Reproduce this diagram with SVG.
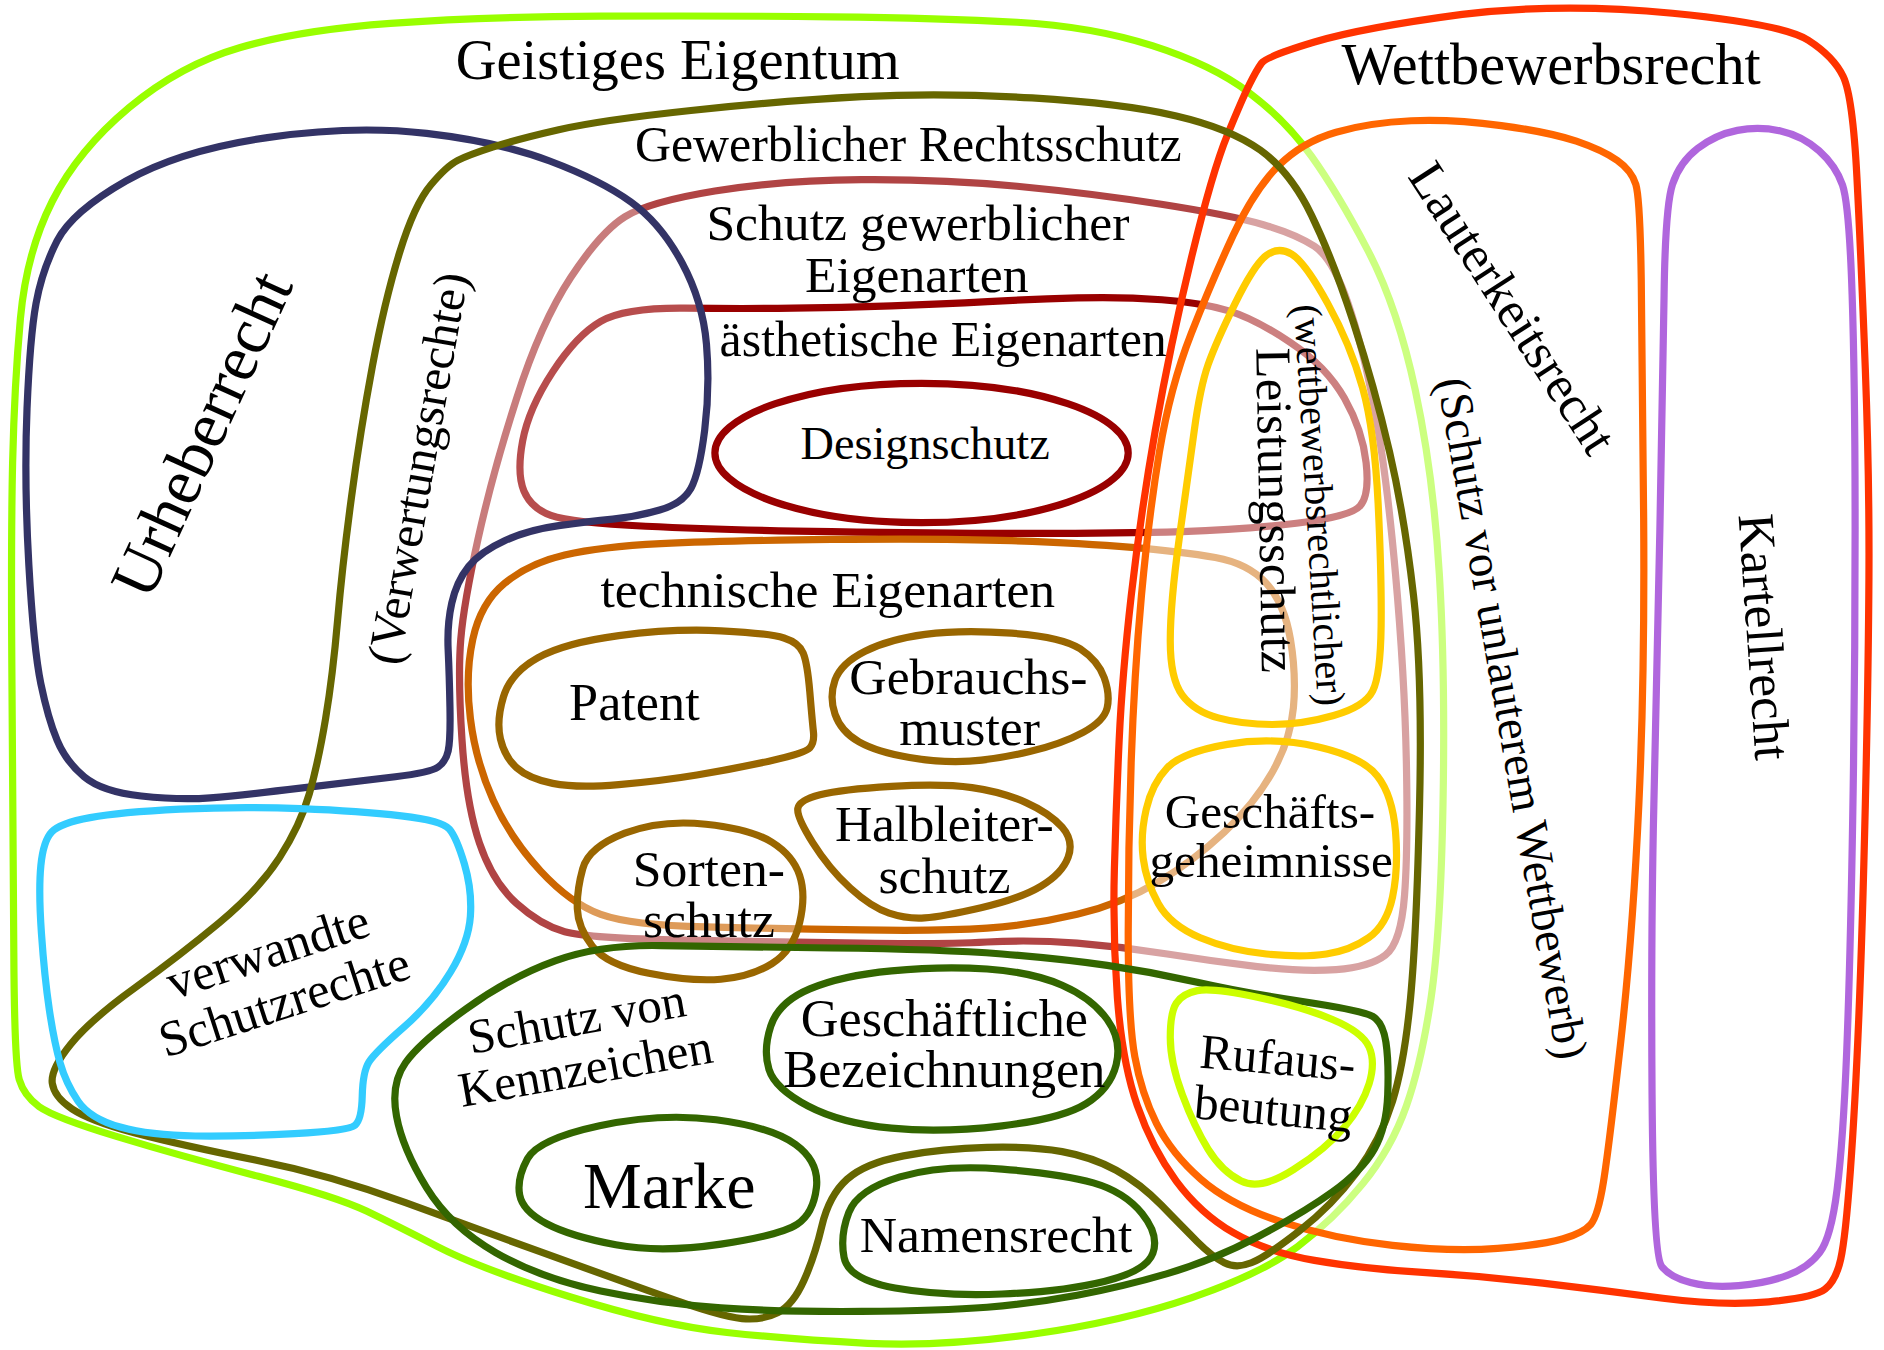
<svg xmlns="http://www.w3.org/2000/svg" width="1884" height="1350" viewBox="0 0 1884 1350">
<style>
.s{fill:none;stroke-width:6;stroke-linejoin:round}
.t{font-family:"Liberation Serif","Times New Roman",serif;fill:#000;text-anchor:middle}
</style>
<rect width="1884" height="1350" fill="#fff"/>
<g transform="scale(1.2015)">
<g id="geistiges-eigentum">
<path class="s" stroke="#99ff00" d="M325,19.5 Q400,14 500,13.5 Q600,13 692,14 Q784,15 846.5,18.5 Q909,22 959,38 Q1009,54 1039.5,77 Q1070,100 1091.5,130 Q1113,160 1138,207.5 Q1163,255 1178,325 Q1193,395 1198,478.5 Q1203,562 1201,669.5 Q1199,777 1191,831 Q1183,885 1170.5,920.5 Q1158,956 1134,985.5 Q1110,1015 1080,1037.5 Q1050,1060 992,1080 Q934,1100 859,1110.5 Q784,1121 722,1118 Q660,1115 605,1109 Q550,1103 475,1079.5 Q400,1056 365,1038 Q330,1020 305,1008 Q280,996 215,979 Q150,962 97.5,946 Q45,930 32.5,921 Q20,912 16,898.5 Q12,885 11.5,792.5 Q11,700 10,575 Q9,450 10.5,385 Q12,320 17,265 Q22,210 43.5,167.5 Q65,125 107.5,89.5 Q150,54 200,39.5 Q250,25 325,19.5 Z"/>
<text class="t" x="564" y="66" font-size="47">Geistiges Eigentum</text>
</g>
<g id="schutz-gewerblicher-eigenarten">
<path class="s" stroke="#b04444" d="M520,180.5 Q540,168 595,159 Q650,150 717,149.5 Q784,149 846.5,155 Q909,161 966.5,170 Q1024,179 1051.5,187 Q1079,195 1094,205 Q1109,215 1121.5,251 Q1134,287 1144,340.5 Q1154,394 1161.5,478 Q1169,562 1170.5,633.5 Q1172,705 1169,745 Q1166,785 1153,795 Q1140,805 1112,807 Q1084,809 1046.5,804.5 Q1009,800 971.5,794 Q934,788 896.5,785 Q859,782 821.5,784 Q784,786 717,785 Q650,784 570,782.5 Q490,781 470,775.5 Q450,770 430,752 Q410,734 399,701.5 Q388,669 384.5,615.5 Q381,562 383.5,532 Q386,502 398,448 Q410,394 430,331.5 Q450,269 475,231 Q500,193 520,180.5 Z"/>
<text class="t" x="764" y="200" font-size="43">Schutz gewerblicher</text>
<text class="t" x="763" y="243" font-size="43">Eigenarten</text>
</g>
<g id="aesthetische-eigenarten">
<path class="s" stroke="#990000" d="M500,267.5 Q520,256 570,256.5 Q620,257 660,256.5 Q700,256 742,254.5 Q784,253 822,251 Q860,249 897,248 Q934,247 967,249.5 Q1000,252 1022,258.5 Q1044,265 1074,285 Q1104,305 1119,331.5 Q1134,358 1137,385 Q1140,412 1132,421 Q1124,430 1079,435.5 Q1034,441 984,442.5 Q934,444 859,444 Q784,444 692,442.5 Q600,441 537.5,438 Q475,435 458.5,429 Q442,423 436,408.5 Q430,394 435,367 Q440,340 460,309.5 Q480,279 500,267.5 Z"/>
<text class="t" x="785" y="296" font-size="41.5">ästhetische Eigenarten</text>
</g>
<g id="technische-eigenarten">
<path class="s" stroke="#cc6600" d="M420,485.5 Q440,469 470,462 Q500,455 550,452.5 Q600,450 692,449 Q784,448 842,450 Q900,452 942,455.5 Q984,459 1011.5,464 Q1039,469 1054,485.5 Q1069,502 1074,532 Q1079,562 1076.5,589 Q1074,616 1059,642.5 Q1044,669 1019,692.5 Q994,716 964,734 Q934,752 896.5,761 Q859,770 821.5,772.5 Q784,775 717,774 Q650,773 587.5,771.5 Q525,770 500,761 Q475,752 450,725 Q425,698 410.5,666 Q396,634 391.5,598 Q387,562 393.5,532 Q400,502 420,485.5 Z"/>
<text class="t" x="689" y="505" font-size="43">technische Eigenarten</text>
</g>
<g id="urheberrecht">
<path class="s" stroke="#333366" style="fill:#fff;fill-opacity:0.3" d="M47.5,200.5 Q60,176 105,150.5 Q150,125 222.5,114.5 Q295,104 355,111 Q415,118 457.5,134 Q500,150 525,168 Q550,186 567.5,218.5 Q585,251 588,286.5 Q591,322 586.5,358 Q582,394 575,406.5 Q568,419 549,424.5 Q530,430 510,432 Q490,434 465,437.5 Q440,441 420,450 Q400,459 390,471.5 Q380,484 376,502 Q372,520 373,541 Q374,562 374.5,589 Q375,616 373,625 Q371,634 364.5,638.5 Q358,643 329,646.5 Q300,650 250,656 Q200,662 175,664 Q150,666 117.5,662.5 Q85,659 70,646.5 Q55,634 47.5,616 Q40,598 34,569 Q28,540 24,470 Q20,400 22.5,340 Q25,280 30,252.5 Q35,225 47.5,200.5 Z"/>
<text class="t" font-size="55" transform="translate(184.5,369) rotate(-65.5)">Urheberrecht</text>
</g>
<g id="sortenschutz">
<path class="s" stroke="#996600" style="fill:#fff;fill-opacity:0.35" d="M480.5,756.5 Q480,741 485,723 Q490,705 520,693.5 Q550,682 587.5,686 Q625,690 642.5,701 Q660,712 665.5,728.5 Q671,745 665.5,768 Q660,791 642.5,802 Q625,813 600,815 Q575,817 540,810 Q505,803 493,787.5 Q481,772 480.5,756.5 Z"/>
<text class="t" x="590" y="737" font-size="43">Sorten-</text>
<text class="t" x="590" y="780" font-size="43">schutz</text>
</g>
<g id="lauterkeitsrecht">
<path class="s" stroke="#ff6600" style="fill:#fff;fill-opacity:0.5" d="M1026.5,195.5 Q1044,158 1064,138 Q1084,118 1112,110 Q1140,102 1174.5,100.5 Q1209,99 1249.5,104.5 Q1290,110 1312,117.5 Q1334,125 1346,133.5 Q1358,142 1361.5,153.5 Q1365,165 1366,232.5 Q1367,300 1368,431 Q1369,562 1364,669.5 Q1359,777 1349,866.5 Q1339,956 1334.5,984 Q1330,1012 1324,1019 Q1318,1026 1301,1031 Q1284,1036 1246.5,1039 Q1209,1042 1159,1036.5 Q1109,1031 1066.5,1017 Q1024,1003 999.5,981.5 Q975,960 962.5,935 Q950,910 944.5,879.5 Q939,849 939,777 Q939,705 941.5,633.5 Q944,562 950,496 Q956,430 965,376 Q974,322 991.5,277.5 Q1009,233 1026.5,195.5 Z"/>
<text class="t" font-size="43" transform="translate(1247,264) rotate(57)">Lauterkeitsrecht</text>
<text class="t" font-size="39" transform="translate(1246,600) rotate(80)">(Schutz vor unlauterem Wettbewerb)</text>
</g>
<g id="wettbewerbsrecht">
<path class="s" stroke="#ff3300" d="M1050,52.5 Q1054,47 1094,35 Q1134,23 1217,12 Q1300,2 1392,11 Q1484,20 1505,33.5 Q1526,47 1534,63.5 Q1542,80 1545.5,147.5 Q1549,215 1552.5,307.5 Q1556,400 1555.5,481 Q1555,562 1552.5,669.5 Q1550,777 1547,848.5 Q1544,920 1540,975 Q1536,1030 1532,1048 Q1528,1066 1519,1073 Q1510,1080 1472,1083.5 Q1434,1087 1384,1080.5 Q1334,1074 1284,1068 Q1234,1062 1184,1059 Q1134,1056 1094,1049 Q1054,1042 1026.5,1026 Q999,1010 979,983 Q959,956 946.5,920 Q934,884 930,830.5 Q926,777 927.5,723 Q929,669 931.5,615.5 Q934,562 941.5,496 Q949,430 961.5,358.5 Q974,287 991.5,215 Q1009,143 1021.5,112.5 Q1034,82 1040,70 Q1046,58 1050,52.5 Z"/>
<text class="t" x="1291" y="70" font-size="48.5">Wettbewerbsrecht</text>
</g>
<g id="kartellrecht">
<path class="s" stroke="#b066dd" d="M1385,246 Q1386,172 1392,153.5 Q1398,135 1413,123.5 Q1428,112 1446,108.5 Q1464,105 1482,109 Q1500,113 1514,125.5 Q1528,138 1533.5,154 Q1539,170 1541.5,245 Q1544,320 1544,441 Q1544,562 1542,681 Q1540,800 1537,875 Q1534,950 1529,990 Q1524,1030 1514.5,1042.5 Q1505,1055 1487.5,1061.5 Q1470,1068 1447,1070 Q1424,1072 1407,1067.5 Q1390,1063 1383,1054 Q1376,1045 1375,911 Q1374,777 1376.5,669.5 Q1379,562 1381.5,441 Q1384,320 1385,246 Z"/>
<text class="t" font-size="43" transform="translate(1454,531) rotate(86)">Kartellrecht</text>
</g>
<g id="gewerblicher-rechtsschutz">
<path class="s" stroke="#666600" d="M381,133.5 Q390,129 410,122.5 Q430,116 465,108 Q500,100 575,92 Q650,84 717,80.5 Q784,77 859,81.5 Q934,86 979,96.5 Q1024,107 1049,125 Q1074,143 1091.5,179 Q1109,215 1126.5,268.5 Q1144,322 1156.5,376 Q1169,430 1176.5,496 Q1184,562 1181.5,669.5 Q1179,777 1174,830.5 Q1169,884 1159,916.5 Q1149,949 1129,976 Q1109,1003 1081.5,1024.5 Q1054,1046 1041.5,1051 Q1029,1056 1019,1051 Q1009,1046 996.5,1033.5 Q984,1021 966.5,1003 Q949,985 929,974 Q909,963 884,958.5 Q859,954 821.5,955 Q784,956 752,962 Q720,968 705,981.5 Q690,995 684,1020.5 Q678,1046 669,1066 Q660,1086 647.5,1092.5 Q635,1099 617.5,1097.5 Q600,1096 550,1078 Q500,1060 450,1042 Q400,1024 337.5,1001 Q275,978 212.5,965.5 Q150,953 112.5,943 Q75,933 60,923 Q45,913 43.5,901.5 Q42,890 58.5,869.5 Q75,849 112.5,822 Q150,795 182.5,768 Q215,741 232.5,714 Q250,687 257.5,660.5 Q265,634 271,598 Q277,562 281,516 Q285,470 292.5,414 Q300,358 310,304.5 Q320,251 332.5,210.5 Q345,170 358.5,154 Q372,138 381,133.5 Z"/>
<text class="t" x="756" y="134" font-size="41.5">Gewerblicher Rechtsschutz</text>
<text class="t" font-size="40.5" transform="translate(361,392) rotate(-80)">(Verwertungsrechte)</text>
</g>
<g id="verwandte-schutzrechte">
<path class="s" stroke="#33ccff" d="M43,692.5 Q50,685 75,680.5 Q100,676 150,673.5 Q200,671 250,673 Q300,675 334,679 Q368,683 374,690 Q380,697 386.5,719 Q393,741 391.5,762.5 Q390,784 375,809 Q360,834 336,855 Q312,876 307,884 Q302,892 301.5,912 Q301,932 295.5,936.5 Q290,941 245,943.5 Q200,946 162.5,945.5 Q125,945 100,938 Q75,931 65,916.5 Q55,902 50,884.5 Q45,867 41,840 Q37,813 34.5,777 Q32,741 34,720.5 Q36,700 43,692.5 Z"/>
<g transform="translate(234,826) rotate(-18)">
<text class="t" x="0" y="-22" font-size="42">verwandte</text>
<text class="t" x="0" y="22" font-size="42">Schutzrechte</text>
</g>
</g>
<g id="designschutz">
<ellipse class="s" stroke="#990000" cx="767" cy="377" rx="172" ry="58"/>
<text class="t" x="770" y="382" font-size="38.5">Designschutz</text>
</g>
<g id="patent">
<path class="s" stroke="#996600" d="M419,580 Q425,560 447.5,547.5 Q470,535 515,529 Q560,523 600,525 Q640,527 652.5,531 Q665,535 668.5,543.5 Q672,552 674,576 Q676,600 677,609 Q678,618 674,622.5 Q670,627 640,633.5 Q610,640 580,645 Q550,650 515,653 Q480,656 460,652 Q440,648 430,639 Q420,630 416.5,615 Q413,600 419,580 Z"/>
<text class="t" x="528" y="599" font-size="43.5">Patent</text>
</g>
<g id="gebrauchsmuster">
<path class="s" stroke="#996600" d="M695,594.5 Q690,580 695,566 Q700,552 720,542 Q740,532 770,528 Q800,524 842,527 Q884,530 899,540 Q914,550 919,564 Q924,578 921.5,589 Q919,600 901.5,609.5 Q884,619 857,625.5 Q830,632 807,633.5 Q784,635 757,630.5 Q730,626 715,617.5 Q700,609 695,594.5 Z"/>
<text class="t" x="806" y="578" font-size="43">Gebrauchs-</text>
<text class="t" x="807" y="620" font-size="43">muster</text>
</g>
<g id="halbleiterschutz">
<path class="s" stroke="#996600" d="M664,673 Q665,666 682.5,661.5 Q700,657 742,654.5 Q784,652 809,655.5 Q834,659 854,668 Q874,677 884,688.5 Q894,700 889,713.5 Q884,727 866.5,737.5 Q849,748 816.5,755.5 Q784,763 769.5,764 Q755,765 740,760 Q725,755 707.5,739 Q690,723 676.5,701.5 Q663,680 664,673 Z"/>
<text class="t" x="786" y="700" font-size="43" textLength="182" lengthAdjust="spacing">Halbleiter-</text>
<text class="t" x="786" y="743" font-size="43">schutz</text>
</g>
<g id="schutz-von-kennzeichen">
<path class="s" stroke="#336600" d="M462.5,799.5 Q500,786 550,787 Q600,788 692,789 Q784,790 834,794 Q884,798 921.5,803.5 Q959,809 996.5,817.5 Q1034,826 1084,833.5 Q1134,841 1142.5,846 Q1151,851 1153.5,867.5 Q1156,884 1155,911 Q1154,938 1144,956 Q1134,974 1109,992 Q1084,1010 1046.5,1029.5 Q1009,1049 971.5,1060 Q934,1071 896.5,1078 Q859,1085 821.5,1088 Q784,1091 717,1091.5 Q650,1092 600,1088.5 Q550,1085 500,1074.5 Q450,1064 412.5,1042.5 Q375,1021 355,988.5 Q335,956 330,929 Q325,902 337.5,884.5 Q350,867 387.5,840 Q425,813 462.5,799.5 Z"/>
<g transform="translate(486,882) rotate(-10)">
<text class="t" x="0" y="-21" font-size="41">Schutz von</text>
<text class="t" x="0" y="21" font-size="41">Kennzeichen</text>
</g>
</g>
<g id="geschaeftliche-bezeichnungen">
<path class="s" stroke="#336600" d="M640,890 Q635,874 641.5,854 Q648,834 674,823 Q700,812 742,808 Q784,804 821.5,806.5 Q859,809 884,820 Q909,831 921.5,848.5 Q934,866 929,886 Q924,906 904,918.5 Q884,931 834,937 Q784,943 742,939 Q700,935 672.5,920.5 Q645,906 640,890 Z"/>
<text class="t" x="786" y="862" font-size="43.5">Geschäftliche</text>
<text class="t" x="786" y="905" font-size="43.5">Bezeichnungen</text>
</g>
<g id="marke">
<path class="s" stroke="#336600" d="M432.5,994.5 Q430,981 439,964.5 Q448,948 499,937 Q550,926 596,932 Q642,938 662,952.5 Q682,967 679.5,988.5 Q677,1010 663.5,1019 Q650,1028 600,1035.5 Q550,1043 512.5,1036 Q475,1029 455,1018.5 Q435,1008 432.5,994.5 Z"/>
<text class="t" x="557" y="1005" font-size="55">Marke</text>
</g>
<g id="namensrecht">
<path class="s" stroke="#336600" d="M702.5,1046.5 Q699,1028 706.5,1009 Q714,990 749,979.5 Q784,969 834,973 Q884,977 910,984.5 Q936,992 950.5,1010 Q965,1028 959.5,1043 Q954,1058 919,1066.5 Q884,1075 834,1077 Q784,1079 745,1072 Q706,1065 702.5,1046.5 Z"/>
<text class="t" x="829" y="1042" font-size="43">Namensrecht</text>
</g>
<g id="leistungsschutz">
<path class="s" stroke="#ffcc00" d="M1054,212.5 Q1064,205 1075,211.5 Q1086,218 1105,252.5 Q1124,287 1134,322.5 Q1144,358 1147,419 Q1150,480 1149.5,521 Q1149,562 1142.5,575 Q1136,588 1110,595.5 Q1084,603 1059,603 Q1034,603 1014,597.5 Q994,592 984,578.5 Q974,565 974,533.5 Q974,502 981.5,448 Q989,394 994,358 Q999,322 1005.5,303.5 Q1012,285 1028,252.5 Q1044,220 1054,212.5 Z"/>
<text class="t" font-size="42" transform="translate(1048,425) rotate(89)">Leistungsschutz</text>
<text class="t" font-size="33.5" transform="translate(1087,421) rotate(86.6)">(wettbewerbsrechtlicher)</text>
</g>
<g id="geschaeftsgeheimnisse">
<path class="s" stroke="#ffcc00" d="M951.5,714.5 Q949,695 954,673.5 Q959,652 971.5,639 Q984,626 1021.5,619.5 Q1059,613 1096.5,621.5 Q1134,630 1146.5,646 Q1159,662 1161.5,692.5 Q1164,723 1159,746.5 Q1154,770 1139,780.5 Q1124,791 1104,794 Q1084,797 1054,794 Q1024,791 999,780.5 Q974,770 964,752 Q954,734 951.5,714.5 Z"/>
<text class="t" x="1057" y="689" font-size="41">Geschäfts-</text>
<text class="t" x="1058" y="730" font-size="41">geheimnisse</text>
</g>
<g id="rufausbeutung">
<path class="s" stroke="#ccff00" d="M974,863.5 Q974,843 979,835 Q984,827 996.5,824.5 Q1009,822 1046.5,830 Q1084,838 1109,848.5 Q1134,859 1139.5,871.5 Q1145,884 1139.5,902 Q1134,920 1119,938 Q1104,956 1076.5,973.5 Q1049,991 1033,983 Q1017,975 1005.5,956.5 Q994,938 984,911 Q974,884 974,863.5 Z"/>
<g transform="translate(1060.5,915) rotate(5)">
<text class="t" x="0" y="-21" font-size="41">Rufaus-</text>
<text class="t" x="0" y="21.5" font-size="41">beutung</text>
</g>
</g>
<g id="connectors"/>
</g>
</svg>
